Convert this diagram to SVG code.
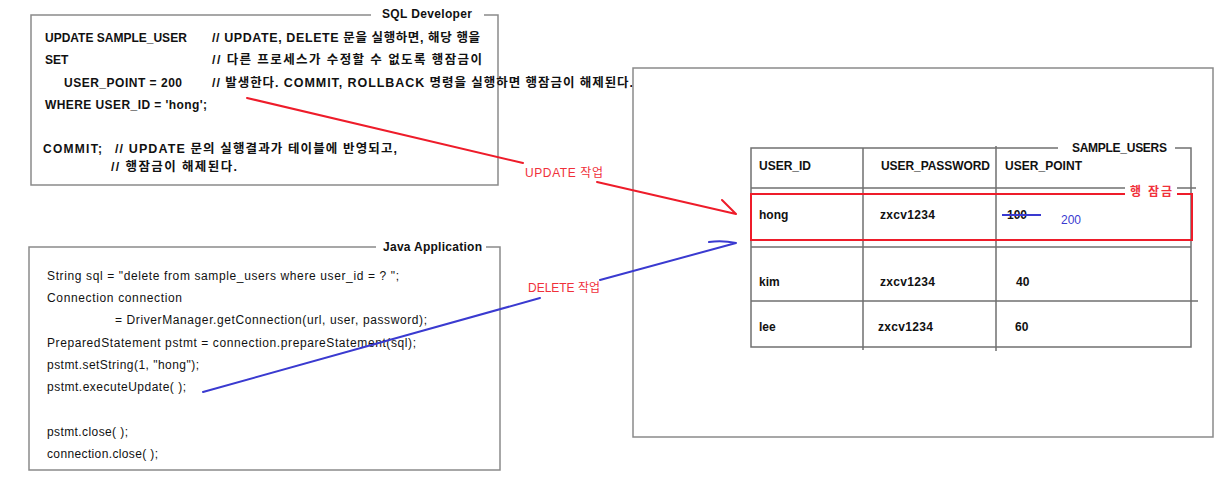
<svg xmlns="http://www.w3.org/2000/svg" width="1230" height="502" viewBox="0 0 1230 502">
<style>
text{font-family:"Liberation Sans","Noto Sans CJK KR",sans-serif;font-size:12px;fill:#111}
.b{font-weight:bold}
.k{font-size:12.5px}
.box{fill:none;stroke:#8a8a8a;stroke-width:1.5}
.tl{fill:none;stroke:#707070;stroke-width:1.5}
.red{fill:#f0303a}
.blue{fill:#3a3ad0}
.bg{fill:#fff}
</style>
<rect width="1230" height="502" fill="#fff"/>
<g id="sql-developer">
<rect class="box" x="31" y="15" width="467" height="170"/>
<rect class="bg" x="371" y="6" width="113" height="16"/>
<text class="b" x="382" y="18" textLength="90">SQL Developer</text>
<text class="b" x="45" y="42">UPDATE SAMPLE_USER</text>
<text class="b" x="45" y="64">SET</text>
<text class="b" x="64" y="87" textLength="118">USER_POINT = 200</text>
<text class="b" x="45" y="109" textLength="162">WHERE USER_ID = 'hong';</text>
<text class="b k" x="212" y="42" textLength="268">// UPDATE, DELETE 문을 실행하면, 해당 행을</text>
<text class="b k" x="212" y="64" textLength="270">// 다른 프로세스가 수정할 수 없도록 행잠금이</text>
<text class="b k" x="212" y="87" textLength="421">// 발생한다. COMMIT, ROLLBACK 명령을 실행하면 행잠금이 해제된다.</text>
<text class="b" x="43" y="153" textLength="59">COMMIT;</text>
<text class="b k" x="115" y="153" textLength="282">// UPDATE 문의 실행결과가 테이블에 반영되고,</text>
<text class="b k" x="111" y="171" textLength="126">// 행잠금이 해제된다.</text>
</g>
<g id="java-application">
<rect class="box" x="29" y="247" width="471" height="223"/>
<rect class="bg" x="376" y="239" width="110" height="16"/>
<text class="b" x="383" y="251" textLength="99">Java Application</text>
<text x="47" y="280" font-size="13" textLength="352">String sql = "delete from sample_users where user_id = ? ";</text>
<text x="47" y="302" font-size="13" textLength="135">Connection connection</text>
<text x="115" y="324" font-size="13" textLength="312">= DriverManager.getConnection(url, user, password);</text>
<text x="47" y="347" font-size="13" textLength="369">PreparedStatement pstmt = connection.prepareStatement(sql);</text>
<text x="47" y="369" font-size="13" textLength="152">pstmt.setString(1, "hong");</text>
<text x="47" y="391" font-size="13" textLength="139">pstmt.executeUpdate( );</text>
<text x="47" y="436" font-size="13" textLength="81">pstmt.close( );</text>
<text x="47" y="458" font-size="13" textLength="111">connection.close( );</text>
</g>
<g id="database">
<rect class="box" x="633" y="68" width="580" height="369"/>
</g>
<g id="sample-users">
<path class="tl" d="M1058,148 H751 V347 H1191 V148 H1175"/>
<path class="tl" d="M751,188 H1125 M1177,188 H1196 M751,247 H1191 M751,301 H1198 M863,148 V350 M996,146 V351"/>
<text class="b" x="1072" y="152" textLength="95">SAMPLE_USERS</text>
<text class="b" x="759" y="170">USER_ID</text>
<text class="b" x="881" y="170" textLength="109">USER_PASSWORD</text>
<text class="b" x="1005" y="170" textLength="77">USER_POINT</text>
<text class="b" x="759" y="286">kim</text>
<text class="b" x="880" y="286" textLength="55">zxcv1234</text>
<text class="b" x="1016" y="286">40</text>
<text class="b" x="759" y="331">lee</text>
<text class="b" x="878" y="331" textLength="55">zxcv1234</text>
<text class="b" x="1015" y="331">60</text>
</g>
<g id="row-lock">
<path d="M1125,194 H751 V240 H1192 V194 H1177" fill="none" stroke="#ee1c2a" stroke-width="2"/>
<rect class="bg" x="1126" y="183" width="50" height="16"/>
<text class="b red" x="1130" y="196" textLength="42">행 잠금</text>
<text class="b" x="759" y="219">hong</text>
<text class="b" x="880" y="219" textLength="55">zxcv1234</text>
<text class="b" x="1007" y="219">100</text>
<path d="M1002,215 H1041" stroke="#3a3ad0" stroke-width="1.8"/>
<text class="blue" x="1061" y="224">200</text>
</g>
<g id="connectors" fill="none" stroke-width="2" stroke-linecap="round">
<path d="M247,98 L523,163 M597,182 L736,214 M722,200 L736,214" stroke="#ee1c2a"/>
<path d="M203,392 L540,298 M600,280 L736,243 M709,242 Q722,240 736,243" stroke="#3a3ad0"/>
<text class="red" x="525" y="177" textLength="78" stroke="none">UPDATE 작업</text>
<text class="red" x="528" y="292" textLength="72" stroke="none">DELETE 작업</text>
</g>
</svg>
